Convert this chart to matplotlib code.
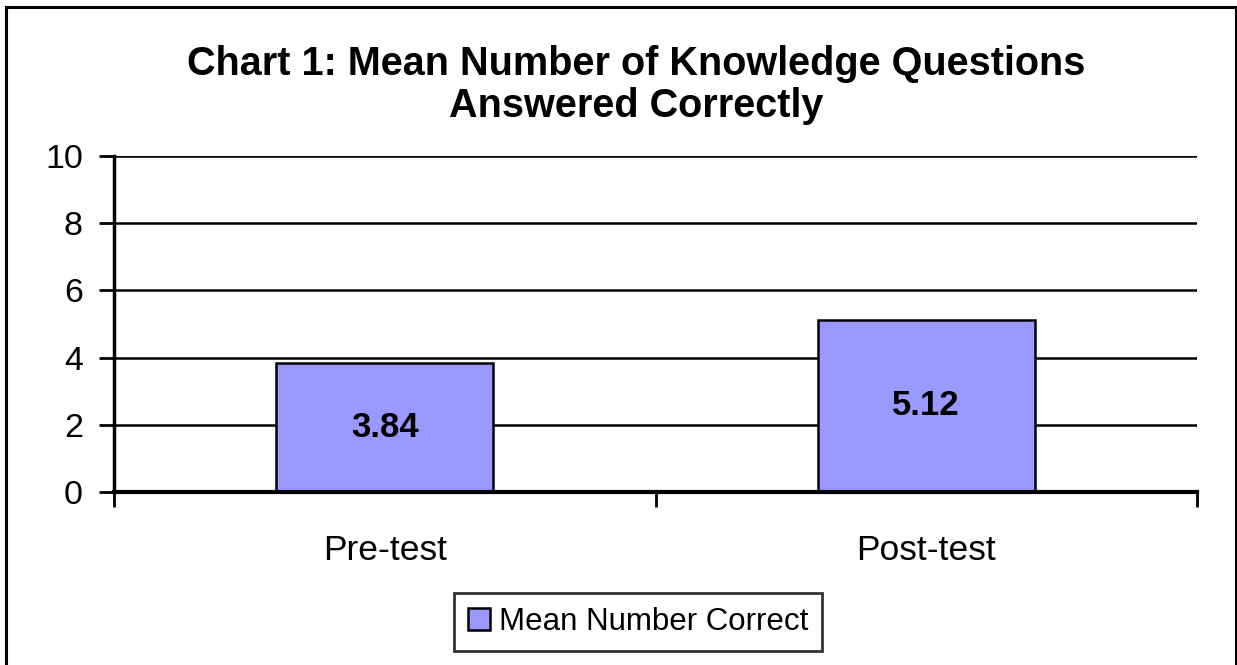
import matplotlib
matplotlib.use("Agg")
import matplotlib.pyplot as plt
from matplotlib.patches import Rectangle, Patch

categories = ["Pre-test", "Post-test"]
values = [3.84, 5.12]
value_labels = ["3.84", "5.12"]
series_name = "Mean Number Correct"
yticks = [0, 2, 4, 6, 8, 10]
title = "Chart 1: Mean Number of Knowledge Questions\nAnswered Correctly"

plt.rcParams['font.family'] = ['Liberation Sans', 'DejaVu Sans']

fig = plt.figure(figsize=(12.37, 6.65), dpi=100)
fig.patches.append(Rectangle((6/1237, -0.05), 1230/1237, 1 - 7/665 + 0.05,
                             transform=fig.transFigure, fill=False,
                             edgecolor='black', linewidth=2.2, zorder=0))

ax = fig.add_axes([114/1237, 173/665, 1083/1237, 336/665])
x = list(range(len(categories)))
bars = ax.bar(x, values, width=0.4, color='#9999ff', edgecolor='black',
              linewidth=1.8, zorder=3, label=series_name)
for xi, v, lab in zip(x, values, value_labels):
    ax.text(xi, v / 2, lab, ha='center', va='center', fontsize=25,
            fontweight='bold', zorder=4)

ax.set_xlim(-0.5, len(categories) - 0.5)
ax.set_ylim(0, 10)
ax.set_yticks(yticks)
ax.set_yticklabels([str(t) for t in yticks], fontsize=24.5)
ax.set_xticks(x)
ax.set_xticklabels(categories, fontsize=25.5)
ax.tick_params(axis='x', length=0, pad=30)
ax.set_xticks([-0.5, 0.5, 1.5], minor=True)
ax.tick_params(axis='x', which='minor', length=11, width=2, direction='out')
ax.tick_params(axis='y', length=11, width=2, direction='out', pad=11.5)
ax.yaxis.grid(True, color='black', linewidth=1.8, zorder=0)
ax.set_axisbelow(True)
for s in ['top', 'right']:
    ax.spines[s].set_visible(False)
ax.spines['left'].set_linewidth(2.5)
ax.spines['bottom'].set_linewidth(3)
ax.spines['bottom'].set_zorder(5)

fig.text(636/1237, 1 - 85/665, title, ha='center', va='center',
         fontsize=28.5, fontweight='bold', linespacing=1.12)

handle = Patch(facecolor='#9999ff', edgecolor='black', linewidth=1.8)
leg = fig.legend([handle], [series_name], loc='center',
                 bbox_to_anchor=(638/1237, 1 - 622/665), fontsize=22.5,
                 frameon=True, fancybox=False, edgecolor='black',
                 handlelength=0.7, handleheight=0.7, handletextpad=0.3,
                 borderpad=0.45, borderaxespad=0)
leg.get_frame().set_linewidth(2)

fig.savefig("out.png", dpi=100)
